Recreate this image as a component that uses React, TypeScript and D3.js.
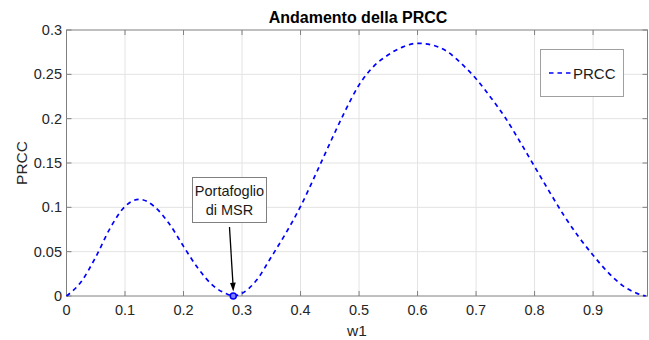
import React from "react";
import * as d3 from "d3";

const W = 649;
const H = 340;

const w1Values = [0, 0.025, 0.05, 0.075, 0.1, 0.125, 0.15, 0.175, 0.2, 0.225, 0.25, 0.275, 0.285, 0.3, 0.325, 0.35, 0.375, 0.4, 0.425, 0.45, 0.475, 0.5, 0.525, 0.55, 0.575, 0.6, 0.625, 0.65, 0.675, 0.7, 0.725, 0.75, 0.775, 0.8, 0.825, 0.85, 0.875, 0.9, 0.925, 0.95, 0.975, 0.99];
const prccValues = [0, 0.016, 0.044, 0.077, 0.101, 0.109, 0.101, 0.082, 0.056, 0.031, 0.012, 0.002, 0, 0.003, 0.018, 0.044, 0.071, 0.101, 0.136, 0.172, 0.207, 0.238, 0.259, 0.272, 0.281, 0.285, 0.283, 0.276, 0.262, 0.245, 0.224, 0.201, 0.174, 0.146, 0.118, 0.091, 0.067, 0.046, 0.027, 0.012, 0.003, 0];

const xTicks = [0, 0.1, 0.2, 0.3, 0.4, 0.5, 0.6, 0.7, 0.8, 0.9];
const yTicks = [0, 0.05, 0.1, 0.15, 0.2, 0.25, 0.3];
const xLimits = [0, 0.993];
const yLimits = [0, 0.3];

const msrPoint = { w1: 0.285, prcc: 0 };
const titleText = "Andamento della PRCC";
const xLabelText = "w1";
const yLabelText = "PRCC";
const legendText = "PRCC";
const annotationLines = ["Portafoglio", "di MSR"];

const FONT = "'Liberation Sans', Arial, Helvetica, sans-serif";

export default function App() {
  const left = 66.5;
  const right = 647.5;
  const top = 30;
  const bottom = 296;

  const x = d3.scaleLinear().domain(xLimits).range([left, right]);
  const y = d3.scaleLinear().domain(yLimits).range([bottom, top]);

  const data = w1Values.map((w, i) => ({ w, v: prccValues[i] }));
  const line = d3
    .line<{ w: number; v: number }>()
    .x((d) => x(d.w))
    .y((d) => y(d.v))
    .curve(d3.curveMonotoneX);

  const fmt = (v: number) => (v === 0 ? "0" : String(+v.toFixed(2)));
  const axisColor = "#808080";
  const gridColor = "#e3e3e3";
  const tickLen = 5;

  const mx = x(msrPoint.w1);
  const my = y(msrPoint.prcc);
  const cx = (left + right) / 2;
  const cy = (top + bottom) / 2;

  return (
    <svg width={W} height={H} style={{ position: "absolute", left: 0, top: 0, background: "#fff" }} fontFamily={FONT}>
      <rect x={0} y={0} width={W} height={H} fill="#fff" />
      {xTicks.slice(1).map((t) => (
        <line key={"gx" + t} x1={x(t)} x2={x(t)} y1={top} y2={bottom} stroke={gridColor} strokeWidth={1} />
      ))}
      {yTicks.slice(1, -1).map((t) => (
        <line key={"gy" + t} x1={left} x2={right} y1={y(t)} y2={y(t)} stroke={gridColor} strokeWidth={1} />
      ))}
      <rect x={left} y={top} width={right - left} height={bottom - top} fill="none" stroke={axisColor} strokeWidth={1} />
      {xTicks.map((t) => (
        <g key={"tx" + t}>
          <line x1={x(t)} x2={x(t)} y1={bottom} y2={bottom - tickLen} stroke={axisColor} />
          <line x1={x(t)} x2={x(t)} y1={top} y2={top + tickLen} stroke={axisColor} />
          <text x={x(t)} y={314.5} fontSize={14.5} textAnchor="middle" fill="#262626">
            {fmt(t)}
          </text>
        </g>
      ))}
      {yTicks.map((t) => (
        <g key={"ty" + t}>
          <line x1={left} x2={left + tickLen} y1={y(t)} y2={y(t)} stroke={axisColor} />
          <line x1={right} x2={right - tickLen} y1={y(t)} y2={y(t)} stroke={axisColor} />
          <text x={62} y={y(t) + 5} fontSize={14.5} textAnchor="end" fill="#262626">
            {fmt(t)}
          </text>
        </g>
      ))}
      <path d={line(data) || ""} fill="none" stroke="#0000ff" strokeWidth={1.7} strokeDasharray="4.5,4" />
      <circle cx={mx} cy={my} r={3} fill="#8080ff" stroke="#0000ff" strokeWidth={1.5} />
      <rect x={192.5} y={177.5} width={74} height={45} fill="#fff" stroke="#808080" strokeWidth={1} />
      {annotationLines.map((s, i) => (
        <text key={s} x={229.5} y={196 + i * 18.5} fontSize={14.5} textAnchor="middle" fill="#1a1a1a">
          {s}
        </text>
      ))}
      <line x1={229.5} y1={227} x2={mx - 0.3} y2={my - 12} stroke="#000" strokeWidth={1.3} />
      <path d={`M ${mx - 3.2} ${my - 13} L ${mx + 2.5} ${my - 13.6} L ${mx} ${my - 4.5} Z`} fill="#000" />
      <rect x={540.5} y={49.5} width={83} height={47} fill="#fff" stroke="#a0a0a0" strokeWidth={1} />
      <line x1={549} x2={572} y1={73} y2={73} stroke="#0000ff" strokeWidth={1.7} strokeDasharray="4.5,4" />
      <text x={573} y={78.5} fontSize={15} fill="#1a1a1a">
        {legendText}
      </text>
      <text x={cx + 1} y={23} fontSize={16} fontWeight="bold" textAnchor="middle" fill="#000">
        {titleText}
      </text>
      <text x={cx} y={336} fontSize={15.5} textAnchor="middle" fill="#262626">
        {xLabelText}
      </text>
      <text transform={`translate(26.5, ${cy}) rotate(-90)`} fontSize={15.5} textAnchor="middle" fill="#262626">
        {yLabelText}
      </text>
    </svg>
  );
}
